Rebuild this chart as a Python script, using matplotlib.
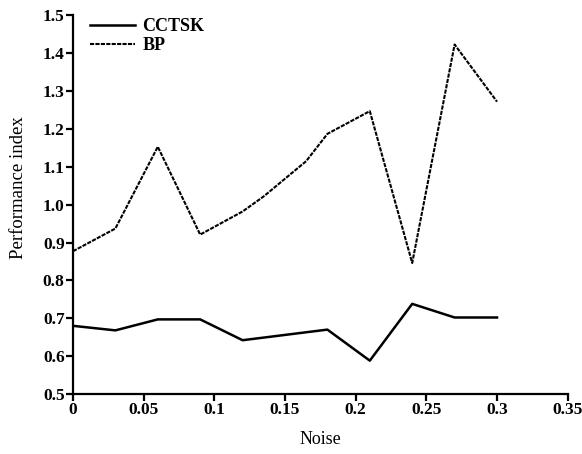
import matplotlib
matplotlib.use("Agg")
import matplotlib.pyplot as plt

# Data
cctsk_x = [0.0, 0.03, 0.06, 0.09, 0.12, 0.18, 0.21, 0.24, 0.27, 0.30]
cctsk_y = [0.680, 0.668, 0.697, 0.697, 0.642, 0.670, 0.588, 0.738, 0.702, 0.702]

bp_x = [0.0, 0.03, 0.06, 0.09, 0.12, 0.135, 0.165, 0.18, 0.21, 0.24, 0.27, 0.30]
bp_y = [0.877, 0.937, 1.153, 0.921, 0.982, 1.022, 1.115, 1.187, 1.247, 0.846, 1.423, 1.272]

xticks = [0, 0.05, 0.1, 0.15, 0.2, 0.25, 0.3, 0.35]
xticklabels = ["0", "0.05", "0.1", "0.15", "0.2", "0.25", "0.3", "0.35"]
yticks = [0.5, 0.6, 0.7, 0.8, 0.9, 1.0, 1.1, 1.2, 1.3, 1.4, 1.5]
yticklabels = ["0.5", "0.6", "0.7", "0.8", "0.9", "1.0", "1.1", "1.2", "1.3", "1.4", "1.5"]

plt.rcParams['font.family'] = ['Liberation Serif', 'DejaVu Serif']

fig = plt.figure(figsize=(5.82, 4.54), dpi=100)
ax = fig.add_axes([0.1254, 0.1322, 0.85, 0.834])

ax.plot(cctsk_x, cctsk_y, color='black', lw=1.8, ls='-', label='CCTSK')
ax.plot(bp_x, bp_y, color='black', lw=1.5, ls=(0, (2.0, 0.6)), label='BP')

ax.set_xlim(0, 0.35)
ax.set_ylim(0.5, 1.5)
ax.set_xticks(xticks)
ax.set_xticklabels(xticklabels, fontsize=12.5, fontweight='bold')
ax.set_yticks(yticks)
ax.set_yticklabels(yticklabels, fontsize=12.5, fontweight='bold')

for s in ['top', 'right']:
    ax.spines[s].set_visible(False)
for s in ['left', 'bottom']:
    ax.spines[s].set_linewidth(1.6)
ax.tick_params(direction='out', length=5, width=1.6, pad=1)

ax.set_xlabel('Noise', fontsize=13, labelpad=9)
ax.set_ylabel('Performance index', fontsize=13.5)
ax.yaxis.set_label_coords(-0.092, 0.544)

leg = ax.legend(loc='upper left', frameon=False, prop={'size': 13, 'weight': 'bold'},
                handlelength=2.5, handletextpad=0.4, labelspacing=0.1,
                bbox_to_anchor=(0.02, 1.012), borderaxespad=0)

fig.savefig('out.png', dpi=100)
